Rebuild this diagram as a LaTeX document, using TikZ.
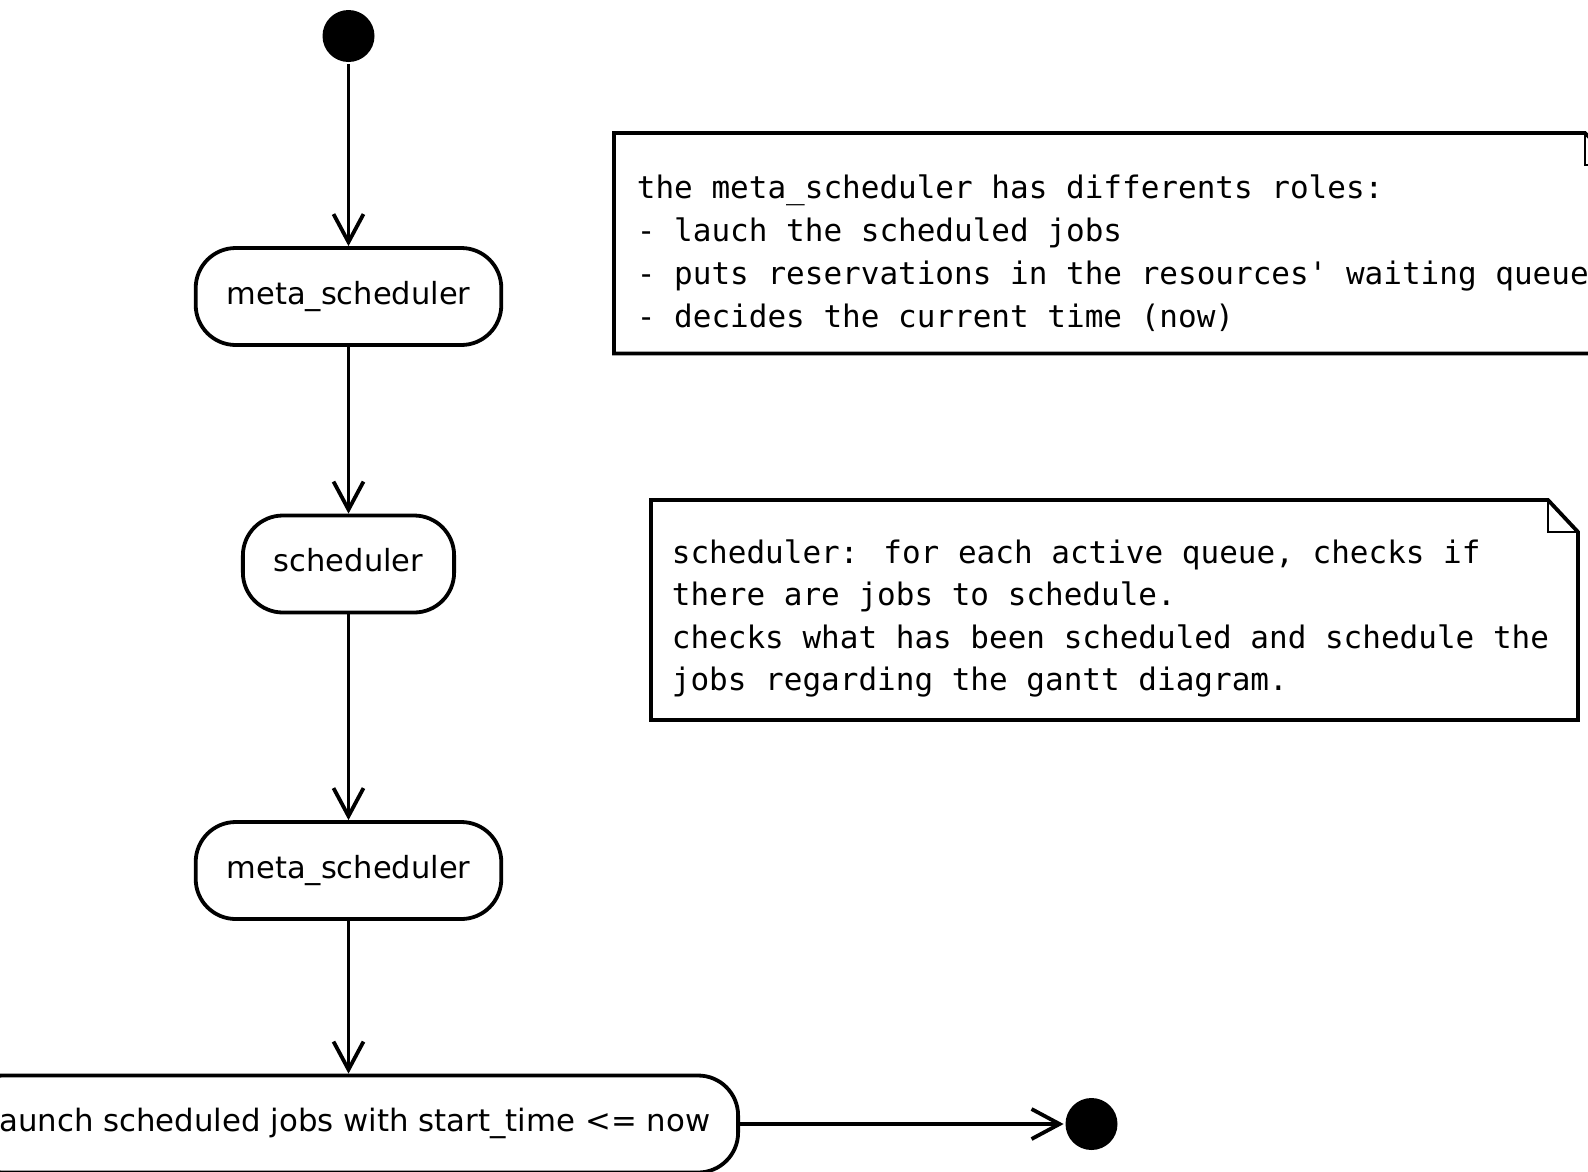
\documentclass[tikz,border=0pt]{standalone}
\usepackage{fontspec}
\setmainfont{DejaVu Sans}
\newfontfamily\notefont[Ligatures=TeXOff]{DejaVu Sans Mono}
\usetikzlibrary{arrows.meta}
\begin{document}
\begin{tikzpicture}[x=1pt,y=-1pt,
  line width=3.8pt,
  action/.style={draw, rounded corners=40pt, minimum height=97pt,
    inner xsep=31pt, text height=23pt, text depth=8pt,
    font=\fontsize{30.5}{36}\selectfont},
  dot/.style={circle, fill, draw=none, inner sep=0pt, minimum size=52pt},
  flow/.style={-{Straight Barb[length=28pt,width=30pt]}},
  noteline/.style={anchor=base west, inner sep=0pt,
    font=\notefont\fontsize{31}{36}\selectfont},
  notebox/.style={line width=3.8pt, line join=miter},
  fold/.style={line width=2pt}]
\useasboundingbox (0,0) rectangle (1588,1171);
\clip (0,0) rectangle (1588,1171);

% activity flow
\node[dot] (start) at (348.5,36) {};
\node[action] (meta1) at (348.5,296.5) {meta\_scheduler};
\node[action] (sched) at (348.5,564) {scheduler};
\node[action] (meta2) at (348.5,870.5) {meta\_scheduler};
\node[action, anchor=east, inner xsep=28pt, font=\fontsize{30.8}{36}\selectfont]
  (launch) at (740,1124) {launch scheduled jobs with start\_time <= now};
\node[dot] (end) at (1091.5,1124) {};

\draw[flow] (start) -- (meta1);
\draw[flow] (meta1) -- (sched);
\draw[flow] (sched) -- (meta2);
\draw[flow] (meta2) -- (launch.north -| meta2);
\draw[flow] (launch) -- (end);

% note on the meta_scheduler
\draw[notebox] (614,133) -- (1585,133) -- (1617,165) -- (1617,353.5)
  -- (614,353.5) -- cycle;
\draw[fold] (1585,133) -- (1585,165) -- (1617,165);
\node[noteline] (n1a) at (635,198) {the meta\_scheduler has differents roles:};
\node[noteline] (n1b) at (635,241) {- lauch the scheduled jobs};
\node[noteline] (n1c) at (635,284) {- puts reservations in the resources' waiting queue};
\node[noteline] (n1d) at (635,327) {- decides the current time (now)};

% note on the scheduler
\draw[notebox] (651,500) -- (1548,500) -- (1578,532) -- (1578,720)
  -- (651,720) -- cycle;
\draw[fold] (1548,500) -- (1548,532) -- (1578,532);
\node[noteline] (n2a) at (670,563) {scheduler: for each active queue, checks if};
\node[noteline] (n2b) at (670,605.5) {there are jobs to schedule.};
\node[noteline] (n2c) at (670,648) {checks what has been scheduled and schedule the};
\node[noteline] (n2d) at (670,690.5) {jobs regarding the gantt diagram.};
\end{tikzpicture}
\end{document}
